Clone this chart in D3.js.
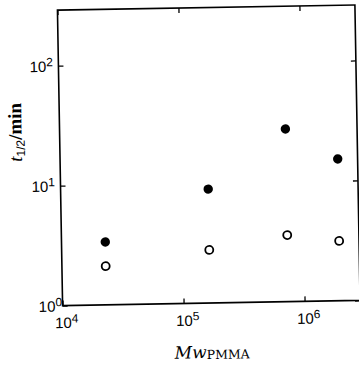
<!DOCTYPE html>
<html><head><meta charset="utf-8">
<script src="https://cdn.jsdelivr.net/npm/d3@7"></script>
<style>html,body{margin:0;padding:0;background:#fff;overflow:hidden}</style>
</head><body>
<script>
// ---- data ----
const mwValues   = [2.3e4, 1.66e5, 7.35e5, 1.97e6];
const filledT    = [3.34, 8.9, 27.5, 15.2];
const openT      = [2.10, 2.77, 3.59, 3.15];
const xTickVals  = [1e4, 1e5, 1e6];
const xTickExps  = ["4", "5", "6"];
const yTickVals  = [1, 10, 100];
const yTickExps  = ["0", "1", "2"];

const W = 359, H = 365;
const m = {left: 60, right: 357.5, top: 7.5, bottom: 303};

const svg = d3.select("body").append("svg").attr("width", W).attr("height", H);
const g = svg.append("g").attr("transform", "rotate(-1,210,155)");

const x = d3.scaleLog().domain([1e4, Math.pow(10, 6 + (m.right - m.left - 242) / 121)]).range([m.left, m.right]);
const y = d3.scaleLog().domain([1, Math.pow(10, (m.bottom - m.top) / 120)]).range([m.bottom, m.top]);

const sansFont = "'Liberation Sans', Arial, sans-serif";
const serifFont = "'DejaVu Serif', serif";

function styleAxis(sel) {
  sel.select(".domain").remove();
  sel.selectAll(".tick line").attr("stroke", "#000").attr("stroke-width", 1.3);
}

// bottom axis
const gx = g.append("g").attr("transform", `translate(0,${m.bottom})`)
  .call(d3.axisBottom(x).tickValues(xTickVals).tickSize(-5).tickFormat(""));
styleAxis(gx);
gx.selectAll(".tick text").each(function(d, i) {
  const t = d3.select(this).attr("y", 22.5).attr("dy", null).attr("x", -8.3)
    .attr("text-anchor", "start").attr("font-family", sansFont).attr("font-size", 15).attr("fill", "#000");
  t.text(null);
  t.append("tspan").text("10");
  t.append("tspan").attr("font-size", 12).attr("dy", -5.5).text(xTickExps[i]);
});

// top axis
const gxt = g.append("g").attr("transform", `translate(0,${m.top})`)
  .call(d3.axisTop(x).tickValues(xTickVals).tickSize(-5).tickFormat(""));
styleAxis(gxt);

// left axis
const gy = g.append("g").attr("transform", `translate(${m.left},0)`)
  .call(d3.axisLeft(y).tickValues(yTickVals).tickSize(-5).tickFormat(""));
styleAxis(gy);
gy.selectAll(".tick text").each(function(d, i) {
  const t = d3.select(this).attr("x", i === 0 ? -0.5 : -5.5).attr("dy", null).attr("y", 5.5)
    .attr("text-anchor", "end").attr("font-family", sansFont).attr("font-size", 15).attr("fill", "#000");
  t.text(null);
  t.append("tspan").text("10");
  t.append("tspan").attr("font-size", 12).attr("dy", -5.5).text(yTickExps[i]);
});

// right axis
const gyr = g.append("g").attr("transform", `translate(${m.right},0)`)
  .call(d3.axisRight(y).tickValues(yTickVals).tickSize(-5).tickFormat(""));
styleAxis(gyr);

// frame
g.append("rect").attr("x", m.left).attr("y", m.top)
  .attr("width", m.right - m.left).attr("height", m.bottom - m.top)
  .attr("fill", "none").attr("stroke", "#000").attr("stroke-width", 1.6);

// points
g.append("g").selectAll("circle").data(mwValues.map((v, i) => [v, openT[i]])).join("circle")
  .attr("cx", d => x(d[0])).attr("cy", d => y(d[1])).attr("r", 4)
  .attr("fill", "#fff").attr("stroke", "#000").attr("stroke-width", 1.8);
g.append("g").selectAll("circle").data(mwValues.map((v, i) => [v, filledT[i]])).join("circle")
  .attr("cx", d => x(d[0])).attr("cy", d => y(d[1])).attr("r", 4.7)
  .attr("fill", "#000");

// x title
const xt = g.append("text").attr("x", (m.left + m.right) / 2).attr("y", 358)
  .attr("text-anchor", "middle").attr("font-family", serifFont).attr("fill", "#000");
xt.append("tspan").attr("font-style", "italic").attr("font-size", 17).text("Mw");
xt.append("tspan").attr("font-size", 12.5).attr("dy", 1).text("PMMA");

// y title
const yt = g.append("text").attr("transform", "translate(22,129) rotate(-90)")
  .attr("text-anchor", "middle").attr("font-family", "'Liberation Serif', serif")
  .attr("font-size", 19).attr("font-weight", "bold").attr("fill", "#000");
yt.append("tspan").attr("font-style", "italic").attr("font-weight", "normal").text("t");
yt.append("tspan").attr("font-family", sansFont).attr("font-weight", "normal").attr("font-size", 12).attr("dy", 3).text("1/2");
yt.append("tspan").attr("dy", -3).text("/min");
</script>
</body></html>
